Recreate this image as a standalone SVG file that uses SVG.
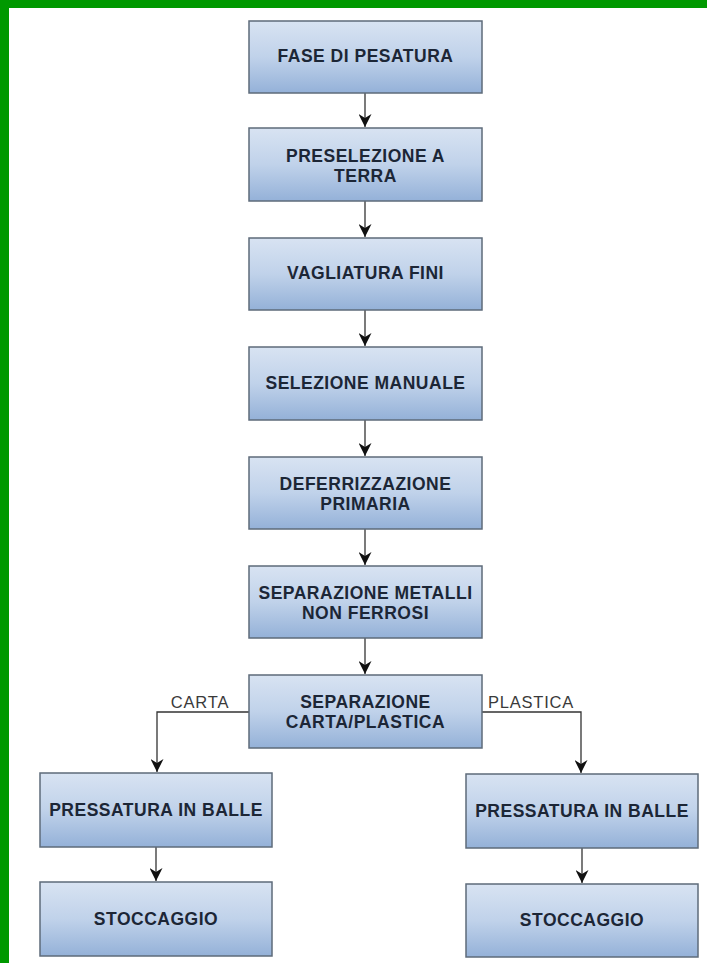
<svg xmlns="http://www.w3.org/2000/svg" width="707" height="963" viewBox="0 0 707 963">
<style>
.box{fill:url(#g);stroke:#5e6b7a;stroke-width:1.5}
.t{font-family:"Liberation Sans",Arial,sans-serif;font-weight:bold;font-size:17.5px;fill:#1c2636;text-anchor:middle;letter-spacing:0.5px}
.lbl{font-family:"Liberation Sans",Arial,sans-serif;font-size:16.5px;fill:#3a3a3a;text-anchor:middle;letter-spacing:0.8px}
.c{fill:none;stroke:#333;stroke-width:1.3;marker-end:url(#a)}
</style>
<defs>
<linearGradient id="g" x1="0" y1="0" x2="0" y2="1">
<stop offset="0" stop-color="#d8e3f2"/>
<stop offset="0.5" stop-color="#c0d2ea"/>
<stop offset="1" stop-color="#94b1d8"/>
</linearGradient>
<marker id="a" markerWidth="13" markerHeight="13" refX="10" refY="5" orient="auto" markerUnits="userSpaceOnUse" viewBox="0 0 10 10">
<path d="M0,0 L10,5 L0,10 L3,5 Z" fill="#111"/>
</marker>
</defs>
<rect x="0" y="0" width="707" height="963" fill="#fff"/>
<rect x="0" y="0" width="707" height="8" fill="#009900"/>
<rect x="0" y="0" width="9" height="963" fill="#009900"/>
<g id="connectors">
<path class="c" d="M365,93 V127"/>
<path class="c" d="M365,201 V237"/>
<path class="c" d="M365,310 V346"/>
<path class="c" d="M365,420 V456"/>
<path class="c" d="M365,529 V565"/>
<path class="c" d="M365,638 V674"/>
<path class="c" d="M249,712 H157 V772"/>
<path class="c" d="M482,712 H581 V773"/>
<path class="c" d="M156,847 V881"/>
<path class="c" d="M582,848 V883"/>
<text class="lbl" x="200" y="708">CARTA</text>
<text class="lbl" x="531" y="708">PLASTICA</text>
</g>
<g id="n1"><rect class="box" x="249" y="21" width="233" height="72"/><text class="t" x="365.5" y="62">FASE DI PESATURA</text></g>
<g id="n2"><rect class="box" x="249" y="128" width="233" height="73"/><text class="t" x="365.5" y="162">PRESELEZIONE A</text><text class="t" x="365.5" y="182">TERRA</text></g>
<g id="n3"><rect class="box" x="249" y="238" width="233" height="72"/><text class="t" x="365.5" y="279">VAGLIATURA FINI</text></g>
<g id="n4"><rect class="box" x="249" y="347" width="233" height="73"/><text class="t" x="365.5" y="389">SELEZIONE MANUALE</text></g>
<g id="n5"><rect class="box" x="249" y="457" width="233" height="72"/><text class="t" x="365.5" y="490">DEFERRIZZAZIONE</text><text class="t" x="365.5" y="510">PRIMARIA</text></g>
<g id="n6"><rect class="box" x="249" y="566" width="233" height="72"/><text class="t" x="365.5" y="599">SEPARAZIONE METALLI</text><text class="t" x="365.5" y="619">NON FERROSI</text></g>
<g id="n7"><rect class="box" x="249" y="675" width="233" height="73"/><text class="t" x="365.5" y="708">SEPARAZIONE</text><text class="t" x="365.5" y="728">CARTA/PLASTICA</text></g>
<g id="n8"><rect class="box" x="40" y="773" width="232" height="74"/><text class="t" x="156" y="816">PRESSATURA IN BALLE</text></g>
<g id="n9"><rect class="box" x="40" y="882" width="232" height="74"/><text class="t" x="156" y="925">STOCCAGGIO</text></g>
<g id="n10"><rect class="box" x="466" y="774" width="232" height="74"/><text class="t" x="582" y="817">PRESSATURA IN BALLE</text></g>
<g id="n11"><rect class="box" x="466" y="884" width="232" height="73"/><text class="t" x="582" y="926">STOCCAGGIO</text></g>
</svg>
